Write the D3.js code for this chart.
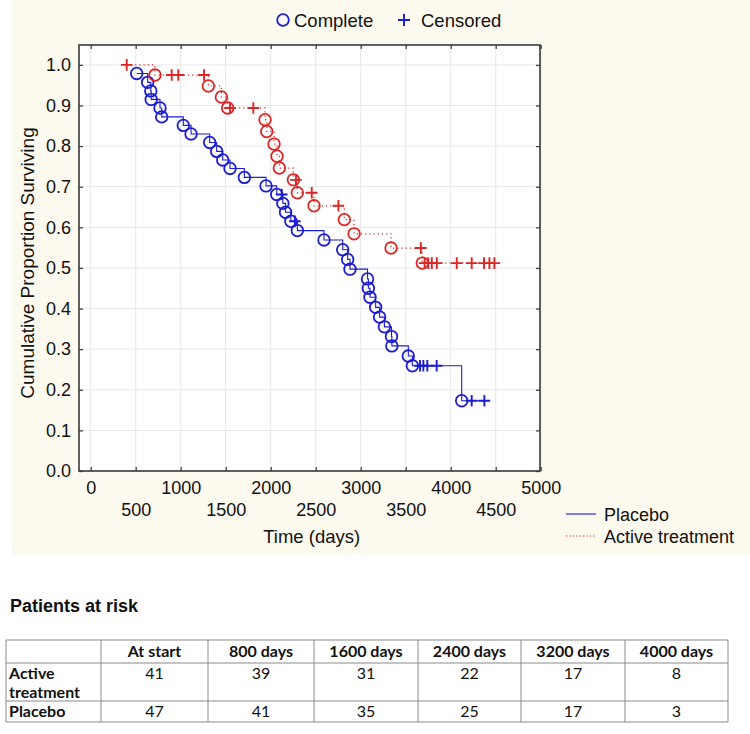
<!DOCTYPE html>
<html>
<head>
<meta charset="utf-8">
<script src="https://cdn.jsdelivr.net/npm/d3@7"></script>
<style>
  html, body { margin: 0; padding: 0; background: #ffffff; }
  svg { display: block; }
</style>
</head>
<body>
<svg id="chart" width="750" height="734"></svg>
<script>
// ---------- DATA ----------
const placeboEventTimes = [511, 633, 668, 672, 770, 789, 1029, 1115, 1322, 1400, 1467, 1548, 1707, 1948, 2067, 2135, 2165, 2224, 2296, 2592, 2800, 2855, 2881, 3076, 3085, 3103, 3166, 3210, 3263, 3342, 3346, 3529, 3574, 4122];
const placeboEventSurv  = [0.979, 0.957, 0.936, 0.915, 0.894, 0.872, 0.851, 0.830, 0.809, 0.787, 0.766, 0.745, 0.723, 0.702, 0.681, 0.659, 0.637, 0.615, 0.592, 0.569, 0.545, 0.521, 0.497, 0.473, 0.450, 0.428, 0.403, 0.379, 0.355, 0.331, 0.308, 0.283, 0.259, 0.173];
const placeboCensorTimes = [2122, 2268, 3659, 3696, 3740, 3844, 4233, 4374];

const activeEventTimes = [714, 1307, 1452, 1522, 1937, 1956, 2037, 2070, 2096, 2252, 2296, 2481, 2818, 2926, 3337, 3684];
const activeEventSurv  = [0.975, 0.948, 0.921, 0.894, 0.865, 0.836, 0.805, 0.775, 0.746, 0.717, 0.685, 0.653, 0.619, 0.584, 0.549, 0.512];
const activeCensorTimes = [400, 900, 973, 1259, 1548, 1807, 2281, 2456, 2752, 3668, 3710, 3750, 3790, 3845, 4067, 4233, 4370, 4430, 4485];

const xTickValues = [0, 500, 1000, 1500, 2000, 2500, 3000, 3500, 4000, 4500, 5000];
const yTickValues = [0, 0.1, 0.2, 0.3, 0.4, 0.5, 0.6, 0.7, 0.8, 0.9, 1.0];

const riskColumns = ["At start", "800 days", "1600 days", "2400 days", "3200 days", "4000 days"];
const riskRowLabels = [["Active", "treatment"], ["Placebo"]];
const activeAtRisk = [41, 39, 31, 22, 17, 8];
const placeboAtRisk = [47, 41, 35, 25, 17, 3];

// ---------- STYLE ----------
const BLUE = "#1c1cd0";
const RED = "#dc2626";
const FONT = "'Liberation Sans', Arial, sans-serif";
const TFONT = "Lato, 'Open Sans', sans-serif";

const svg = d3.select("#chart");

// cream panel
svg.append("rect").attr("x", 12).attr("y", 0).attr("width", 738).attr("height", 555).attr("fill", "#fcf9ee");

const frame = { left: 79, right: 540, top: 45, bottom: 471 };
const x = d3.scaleLinear().domain([-130, 4992]).range([frame.left, frame.right]);
const y = d3.scaleLinear().domain([0, 1.049]).range([frame.bottom, frame.top]);

// plot background
svg.append("rect").attr("x", frame.left).attr("y", frame.top)
  .attr("width", frame.right - frame.left).attr("height", frame.bottom - frame.top)
  .attr("fill", "#ffffff");

// grid
const grid = svg.append("g");
grid.selectAll("line.vx").data(xTickValues).join("line")
  .attr("x1", d => x(d)).attr("x2", d => x(d))
  .attr("y1", frame.top).attr("y2", frame.bottom)
  .attr("stroke", "#e8e8ec").attr("stroke-width", 1);
grid.selectAll("line.hy").data(yTickValues).join("line")
  .attr("y1", d => y(d)).attr("y2", d => y(d))
  .attr("x1", frame.left).attr("x2", frame.right)
  .attr("stroke", "#e8e8ec").attr("stroke-width", 1);

// axes (inward ticks)
const fmtY = d3.format(".1f");
const fmtX = d3.format("d");
const axB = svg.append("g").attr("transform", `translate(0,${frame.bottom})`)
  .call(d3.axisBottom(x).tickValues(xTickValues).tickFormat(fmtX).tickSizeInner(-4).tickSizeOuter(0).tickPadding(10));
axB.selectAll("text").attr("dy", (d, i) => (i % 2 === 0 ? "0.71em" : "1.93em"));
const axL = svg.append("g").attr("transform", `translate(${frame.left},0)`)
  .call(d3.axisLeft(y).tickValues(yTickValues).tickFormat(fmtY).tickSizeInner(-4).tickSizeOuter(0).tickPadding(8));
const axT = svg.append("g").attr("transform", `translate(0,${frame.top})`)
  .call(d3.axisTop(x).tickValues(xTickValues).tickSizeInner(-4).tickSizeOuter(0).tickFormat(""));
const axR = svg.append("g").attr("transform", `translate(${frame.right},0)`)
  .call(d3.axisRight(y).tickValues(yTickValues).tickSizeInner(-4).tickSizeOuter(0).tickFormat(""));
[axB, axL, axT, axR].forEach(a => {
  a.select(".domain").remove();
  a.selectAll("line").attr("stroke", "#444").attr("stroke-width", 1.3);
  a.selectAll("text").attr("fill", "#111").style("font-family", FONT).style("font-size", "18px");
});

// frame
svg.append("rect").attr("x", frame.left).attr("y", frame.top)
  .attr("width", frame.right - frame.left).attr("height", frame.bottom - frame.top)
  .attr("fill", "none").attr("stroke", "#3a3a3a").attr("stroke-width", 1.6);

// axis titles
svg.append("text").attr("x", (x(0) + x(5000)) / 2 - 4).attr("y", 543)
  .attr("text-anchor", "middle").style("font-family", FONT).style("font-size", "18.5px").attr("fill", "#111")
  .text("Time (days)");
svg.append("text").attr("transform", `translate(34,263) rotate(-90)`)
  .attr("text-anchor", "middle").style("font-family", FONT).style("font-size", "19px").attr("fill", "#111")
  .text("Cumulative Proportion Surviving");

// ---------- KM curves ----------
function buildObs(evT, evS, cenT) {
  const obs = [];
  evT.forEach((t, i) => obs.push({ t: t, s: evS[i], type: "event" }));
  cenT.forEach(t => {
    let s = 1;
    evT.forEach((et, i) => { if (et <= t) s = evS[i]; });
    obs.push({ t: t, s: s, type: "censor" });
  });
  obs.sort((a, b) => a.t - b.t || (a.type === "censor" ? -1 : 1));
  return obs;
}
const placeboObs = buildObs(placeboEventTimes, placeboEventSurv, placeboCensorTimes);
const activeObs = buildObs(activeEventTimes, activeEventSurv, activeCensorTimes);

const stepLine = d3.line().x(d => x(d.t)).y(d => y(d.s)).curve(d3.curveStepAfter);

function drawGroup(obs, color, dashed) {
  const g = svg.append("g");
  g.append("path").attr("d", stepLine(obs)).attr("fill", "none")
    .attr("stroke", color).attr("stroke-width", dashed ? 1.2 : 1.1)
    .attr("stroke-dasharray", dashed ? "1.2,3" : null);
  g.selectAll("circle").data(obs.filter(d => d.type === "event")).join("circle")
    .attr("cx", d => x(d.t)).attr("cy", d => y(d.s)).attr("r", 5.8)
    .attr("fill", "none").attr("stroke", color).attr("stroke-width", 1.8);
  g.selectAll("path.plus").data(obs.filter(d => d.type === "censor")).join("path")
    .attr("class", "plus")
    .attr("d", d => { const cx = x(d.t), cy = y(d.s), h = 5.8; return `M${cx - h},${cy}H${cx + h}M${cx},${cy - h}V${cy + h}`; })
    .attr("stroke", color).attr("stroke-width", 1.9).attr("fill", "none");
}
drawGroup(placeboObs, BLUE, false);
drawGroup(activeObs, RED, true);

// ---------- legends ----------
const lgTop = svg.append("g");
lgTop.append("circle").attr("cx", 283).attr("cy", 20).attr("r", 5.8).attr("fill", "none").attr("stroke", BLUE).attr("stroke-width", 1.8);
lgTop.append("text").attr("x", 294).attr("y", 26.5).style("font-family", FONT).style("font-size", "18.5px").attr("fill", "#111").text("Complete");
lgTop.append("path").attr("d", "M398,20H410M404,14V26").attr("stroke", BLUE).attr("stroke-width", 1.9);
lgTop.append("text").attr("x", 421).attr("y", 26.5).style("font-family", FONT).style("font-size", "18.5px").attr("fill", "#111").text("Censored");

const lgR = svg.append("g");
lgR.append("line").attr("x1", 566).attr("x2", 596).attr("y1", 514).attr("y2", 514).attr("stroke", "#4a4ad8").attr("stroke-width", 1.4);
lgR.append("text").attr("x", 604).attr("y", 520.5).style("font-family", FONT).style("font-size", "18px").attr("fill", "#111").text("Placebo");
lgR.append("line").attr("x1", 566).attr("x2", 596).attr("y1", 536).attr("y2", 536).attr("stroke", RED).attr("stroke-width", 1.2).attr("stroke-dasharray", "1.2,2.2");
lgR.append("text").attr("x", 604).attr("y", 542.5).style("font-family", FONT).style("font-size", "18px").attr("fill", "#111").text("Active treatment");

// ---------- Patients at risk table ----------
svg.append("text").attr("x", 10).attr("y", 612).style("font-family", FONT).style("font-size", "18px")
  .style("font-weight", "bold").attr("fill", "#111").text("Patients at risk");

const colEdges = [6, 101, 208, 314, 418, 521, 625, 728];
const rowEdges = [640, 663, 701, 722];
const tbl = svg.append("g");
colEdges.forEach(cx => tbl.append("line").attr("x1", cx).attr("x2", cx).attr("y1", rowEdges[0]).attr("y2", rowEdges[3]).attr("stroke", "#8a8a8a").attr("stroke-width", 1));
rowEdges.forEach(ry => tbl.append("line").attr("x1", colEdges[0]).attr("x2", colEdges[7]).attr("y1", ry).attr("y2", ry).attr("stroke", "#8a8a8a").attr("stroke-width", 1));

const colCenter = i => (colEdges[i + 1] + colEdges[i + 2]) / 2;
const TSIZE = "16px";
riskColumns.forEach((c, i) => {
  tbl.append("text").attr("x", colCenter(i)).attr("y", 657).attr("text-anchor", "middle")
    .style("font-family", TFONT).style("font-size", TSIZE).style("font-weight", "bold").attr("fill", "#111").text(c);
});
riskRowLabels[0].forEach((t, j) => {
  tbl.append("text").attr("x", 9).attr("y", 679 + j * 19).style("font-family", TFONT).style("font-size", TSIZE)
    .style("font-weight", "bold").attr("fill", "#111").text(t);
});
tbl.append("text").attr("x", 9).attr("y", 717).style("font-family", TFONT).style("font-size", TSIZE)
  .style("font-weight", "bold").attr("fill", "#111").text(riskRowLabels[1][0]);
activeAtRisk.forEach((v, i) => {
  tbl.append("text").attr("x", colCenter(i)).attr("y", 679).attr("text-anchor", "middle")
    .style("font-family", TFONT).style("font-size", TSIZE).attr("fill", "#111").text(v);
});
placeboAtRisk.forEach((v, i) => {
  tbl.append("text").attr("x", colCenter(i)).attr("y", 717).attr("text-anchor", "middle")
    .style("font-family", TFONT).style("font-size", TSIZE).attr("fill", "#111").text(v);
});
</script>
</body>
</html>
